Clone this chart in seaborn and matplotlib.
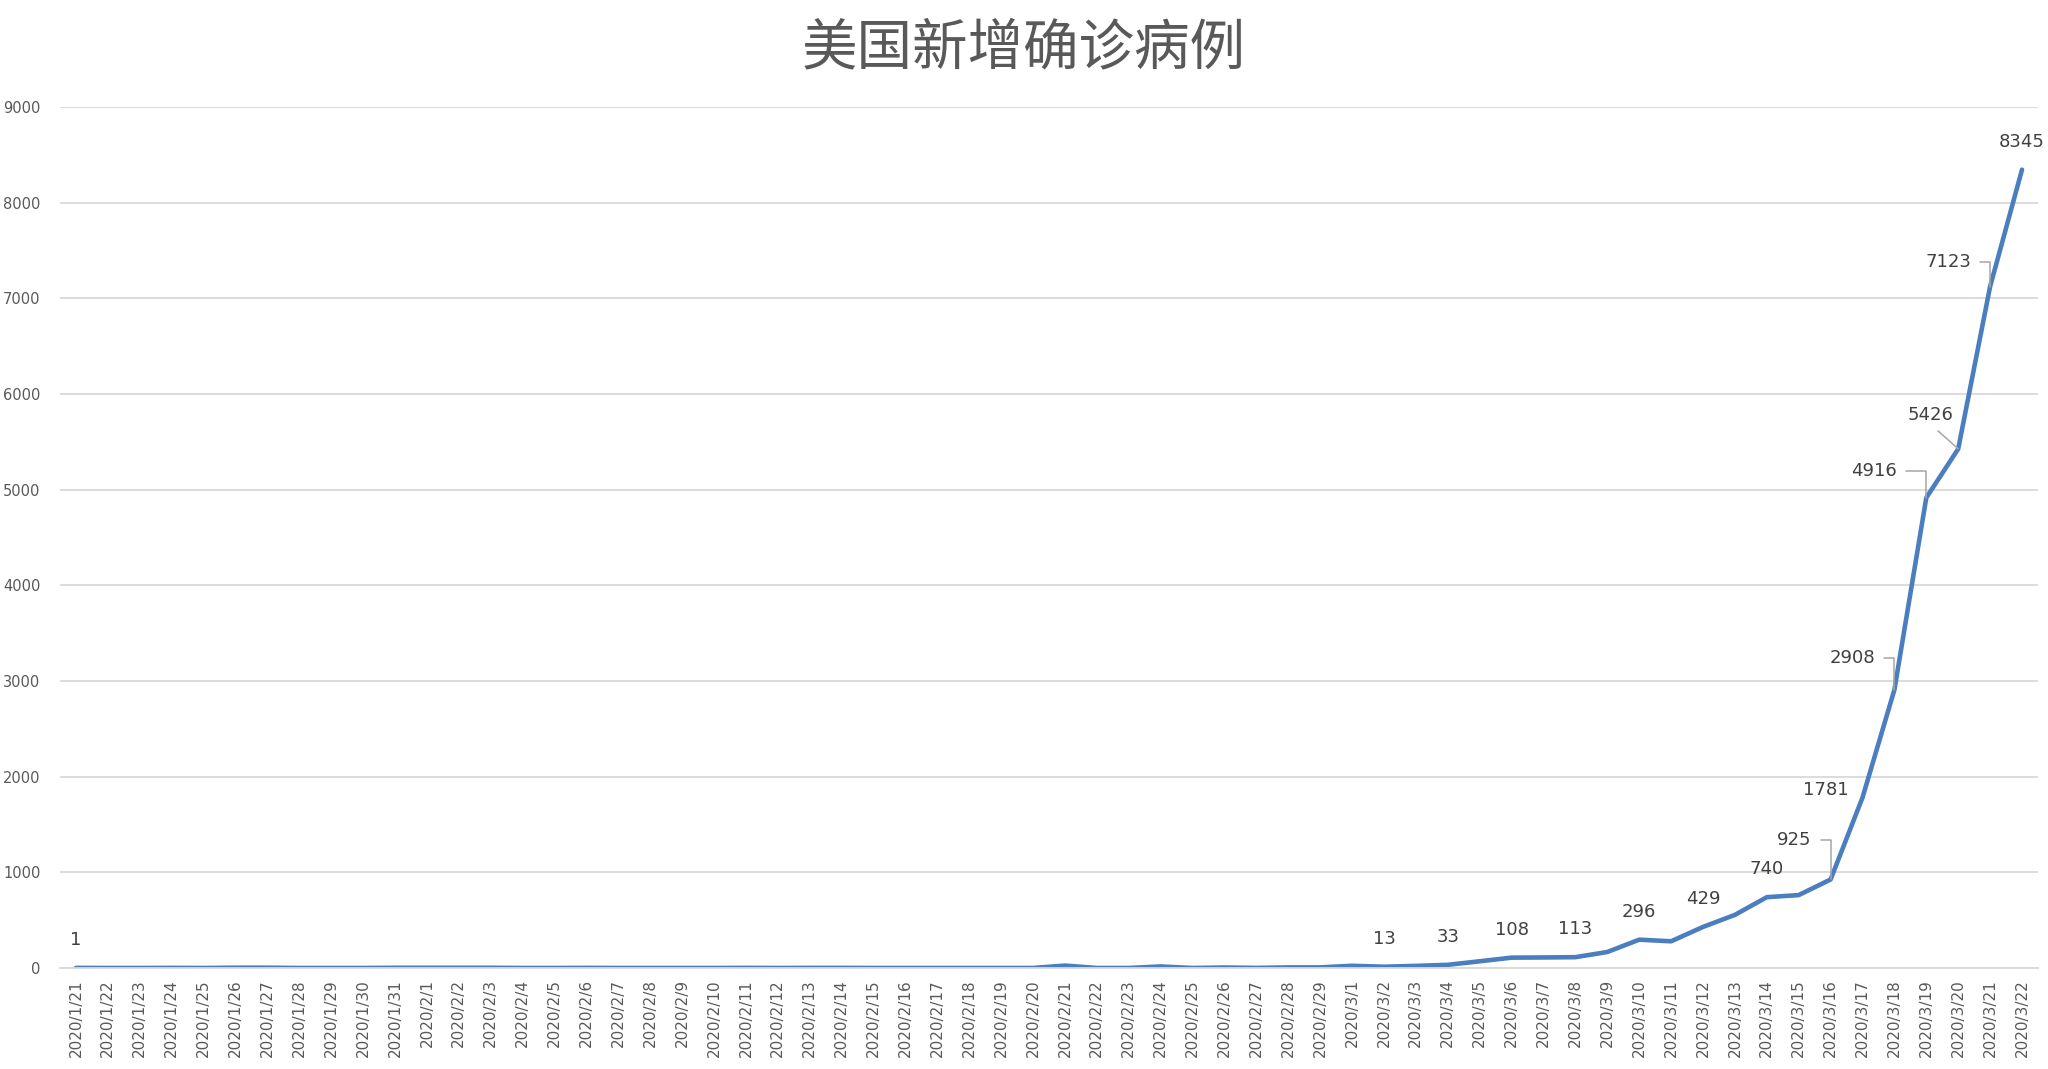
import numpy as np
import pandas as pd
import matplotlib
matplotlib.use("Agg")
import matplotlib.pyplot as plt
from matplotlib.ticker import FixedLocator, NullFormatter
import seaborn as sns

# ----------------------------
# Data
# ----------------------------

dates = (
    [f"2020/1/{d}" for d in range(21, 32)]
    + [f"2020/2/{d}" for d in range(1, 30)]
    + [f"2020/3/{d}" for d in range(1, 23)]
)

new_cases = [
    1, 0, 0, 1, 0, 3, 3, 0, 0, 0, 2,          # 1/21 - 1/31
    2, 2, 2, 0, 0, 1, 0, 0, 0, 0,             # 2/1 - 2/10
    1, 0, 1, 1, 0, 0, 0, 0, 0, 0,             # 2/11 - 2/20
    25, 0, 0, 16, 0, 5, 1, 6, 6,              # 2/21 - 2/29
    23, 13, 22, 33, 70, 108, 110, 113, 167, 296,      # 3/1 - 3/10
    279, 429, 555, 740, 762, 925, 1781, 2908, 4916,   # 3/11 - 3/19
    5426, 7123, 8345,                                 # 3/20 - 3/22
]

labelled_days = [
    "2020/1/21", "2020/3/2", "2020/3/4", "2020/3/6", "2020/3/8",
    "2020/3/10", "2020/3/12", "2020/3/14", "2020/3/16", "2020/3/17",
    "2020/3/18", "2020/3/19", "2020/3/20", "2020/3/21", "2020/3/22",
]

title = "美国新增确诊病例"

df = pd.DataFrame({"date": dates, "cases": new_cases})

# label placement (pixel offsets from the point) and leader style
label_offsets = {
    "2020/3/16": ((-36, 39), "angle"),
    "2020/3/17": ((-37, 8), None),
    "2020/3/18": ((-42, 32), "angle"),
    "2020/3/19": ((-52, 27), "angle"),
    "2020/3/20": ((-28, 34), "straight"),
    "2020/3/21": ((-42, 25), "angle"),
}

# ----------------------------
# Plot
# ----------------------------

sns.set_style("white")
plt.rcParams["font.family"] = ["DejaVu Sans"]

fig, ax = plt.subplots(figsize=(20.48, 10.69), dpi=100)
fig.subplots_adjust(left=0.0293, right=0.9951, top=0.8999, bottom=0.0945)

sns.lineplot(
    data=df, x="date", y="cases", sort=False,
    color="#4A7EBF", linewidth=3.3, ax=ax,
)

n = len(dates)
ax.set_xlim(-0.5, n - 0.5)
ax.set_ylim(0, 9000)
ax.set_yticks(range(0, 9001, 1000))

ax.set_xticks(range(n))
ax.set_xticklabels(dates, rotation=90, fontsize=11, color="#595959")
ax.tick_params(axis="x", which="major", length=0, pad=8)
ax.xaxis.set_minor_locator(FixedLocator(np.arange(-0.5, n, 1.0)))
ax.xaxis.set_minor_formatter(NullFormatter())
ax.tick_params(axis="x", which="minor", length=6, width=1.2, color="#D9D9D9")
ax.tick_params(axis="y", length=0, pad=14, labelsize=10.5, labelcolor="#595959")

ax.yaxis.grid(True, color="#D9D9D9", linewidth=1.3)
ax.set_axisbelow(True)
for side in ["top", "right", "left"]:
    ax.spines[side].set_visible(False)
ax.spines["bottom"].set_color("#D9D9D9")
ax.spines["bottom"].set_linewidth(1.3)
ax.set_xlabel("")
ax.set_ylabel("")

# data labels
for day in labelled_days:
    i = dates.index(day)
    v = new_cases[i]
    offset, leader = label_offsets.get(day, ((0, 28), None))
    arrow = None
    if leader == "angle":
        arrow = dict(arrowstyle="-", color="#A6A6A6", lw=1.1, relpos=(1, 0.5),
                     shrinkA=4, shrinkB=0,
                     connectionstyle="angle,angleA=0,angleB=90,rad=0")
    elif leader == "straight":
        arrow = dict(arrowstyle="-", color="#A6A6A6", lw=1.1, relpos=(0.5, 0),
                     shrinkA=4, shrinkB=0)
    ax.annotate(
        str(v), xy=(i, v), xytext=offset, textcoords="offset pixels",
        ha="center", va="center", fontsize=13, color="#404040",
        arrowprops=arrow,
    )

fig.text(0.5, 0.955, title, ha="center", va="center", fontsize=40,
         color="#595959", family=["Noto Sans CJK SC", "DejaVu Sans"])

fig.savefig("out.png", dpi=100)
plt.close(fig)
